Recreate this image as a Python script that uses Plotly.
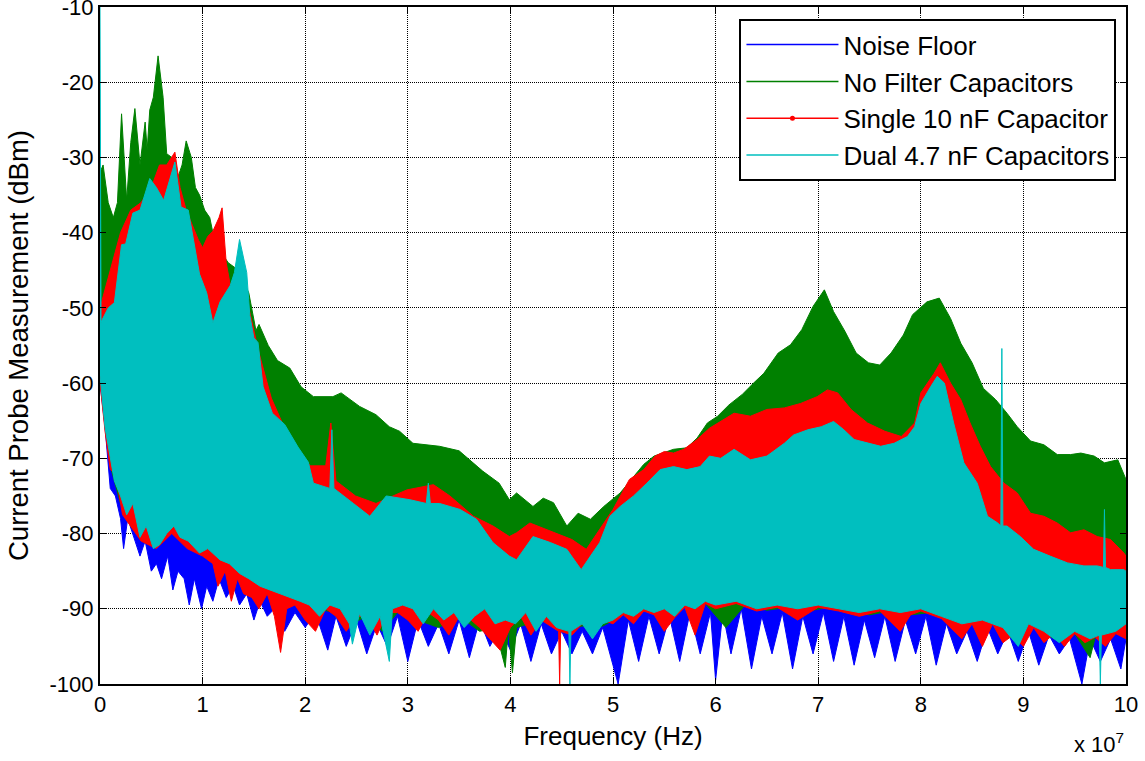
import plotly.graph_objects as go

# ---------------- data (frequency in MHz, level in dBm) ----------------
SERIES_NAMES = ["Noise Floor", "No Filter Capacitors",
                "Single 10 nF Capacitor", "Dual 4.7 nF Capacitors"]
SERIES_COLORS = ["#0000FF", "#008000", "#FF0000", "#00BFBF"]

X_TICK_VALUES_MHZ = [0, 10, 20, 30, 40, 50, 60, 70, 80, 90, 100]
X_TICK_LABELS = ["0", "1", "2", "3", "4", "5", "6", "7", "8", "9", "10"]
Y_TICKS = [-100, -90, -80, -70, -60, -50, -40, -30, -20, -10]

# Noise floor: upper envelope (hidden) and lower envelope
NOISE_TOP = [(0, -55), (3, -70), (10, -78), (20, -84), (40, -86), (60, -85), (80, -85), (100, -87)]
NOISE_BOTTOM = [(0, -60), (0.5, -66), (1, -74), (1.5, -75), (2, -78), (2.3, -82), (2.7, -78), (3.2, -80),
                (3.9, -83), (4.4, -81), (5, -85), (5.5, -84), (6, -86), (6.6, -83), (7.1, -87.5), (7.6, -85),
                (8.2, -86), (8.7, -89.5), (9.2, -86), (9.9, -90), (10.4, -87), (11, -89), (11.6, -86),
                (12.3, -88.5), (13, -87), (13.6, -89.5), (14.3, -88), (15, -91.5), (15.6, -89), (16.3, -91),
                (17, -90), (18, -93), (19, -90.5), (20, -92.5), (21, -90.5), (22.2, -95.5), (23, -91), (24, -95),
                (25, -91.5), (26, -96), (27, -92), (28, -95), (29, -91), (30, -97), (31, -91.5), (32, -95),
                (33, -92), (34, -96), (35, -91.5), (36, -96.5), (37, -91.5), (38, -95), (39, -92.5), (40, -95.5),
                (41, -92), (42, -97), (43, -92), (44, -96), (45, -93), (46, -96), (47, -93), (48, -96),
                (49, -92.5), (50.5, -100), (51.5, -91.5), (52.5, -97), (53.5, -91), (54.5, -96), (55.5, -91),
                (56.5, -97), (57.5, -90.5), (58.5, -96), (59.5, -90.5), (60, -99.5), (60.7, -90.5), (61.5, -96),
                (62.5, -90), (63.5, -98), (64.5, -91), (65.5, -96), (66.5, -90.5), (67.5, -98), (68.5, -91),
                (69.5, -96), (70.5, -90.5), (71.5, -97), (72.5, -91), (73.5, -97.5), (74.5, -91.5), (75.5, -96.5),
                (76.5, -91), (77.5, -97), (78.5, -91.5), (79.5, -96), (80.5, -91), (81.5, -97.5), (82.5, -92),
                (83.5, -96), (84.5, -93), (85.5, -97), (86.5, -92.5), (87.5, -96), (88.5, -93), (89.5, -97),
                (90.5, -93), (91.5, -97.5), (92.5, -93.5), (93.5, -96), (94.5, -94), (95.7, -100), (96.5, -94),
                (97.5, -97), (98.5, -94), (99.5, -98), (100, -94)]

# No filter capacitors
NOFILTER_TOP = [(0, -32), (0.3, -31), (0.8, -36), (1.3, -38), (1.7, -36), (2.1, -24.2), (2.6, -35.7),
                (3.0, -28), (3.4, -23.5), (3.9, -31), (4.4, -25.3), (4.6, -29), (4.85, -23.7), (5.2, -22),
                (5.66, -16.5), (6.15, -22), (6.5, -29.5), (7.0, -30), (7.5, -33), (8.0, -31), (8.4, -27.8),
                (8.9, -30), (9.3, -34), (9.7, -35), (10.2, -37), (10.7, -38), (11.0, -40), (11.5, -42),
                (12.5, -44), (13.5, -45), (14.5, -48), (15.2, -53), (15.5, -52.2), (16.4, -55), (17.3, -57),
                (18.5, -58), (19.6, -60.5), (20.8, -61.8), (22.7, -61.8), (23.5, -61.3), (25.3, -63.1),
                (26.9, -64.2), (28.2, -65.8), (29.2, -66.4), (30.5, -68), (33.1, -68.4), (35.0, -69),
                (37.3, -71.7), (38.9, -73.3), (39.9, -75.5), (40.6, -74.6), (42.2, -76.4), (43.2, -75.3),
                (44.2, -75.9), (45.5, -79), (46.6, -77.3), (47.8, -78.1), (49.1, -76.4), (50.7, -74.6),
                (52.0, -72.4), (53.0, -70.8), (54.0, -69.7), (55.9, -68.8), (57.2, -68.6), (58.2, -67.3),
                (59.2, -65.3), (60.2, -64.4), (61.3, -62.9), (62.6, -61.5), (63.7, -60), (64.7, -58.7),
                (66.1, -56), (67.3, -54.9), (68.4, -52.9), (69.5, -49.8), (70.6, -47.6), (71.5, -50.5),
                (72.6, -53.1), (73.7, -56), (74.9, -57.3), (76.0, -57.6), (77.1, -56), (78.3, -53.6),
                (79.2, -50.9), (80.6, -49.2), (81.8, -48.7), (82.9, -51.4), (83.9, -54.7), (85.0, -57.3),
                (86.1, -60.7), (87.3, -62.2), (88.4, -64), (89.4, -65.8), (90.7, -67.7), (92.0, -68.2),
                (93.3, -69.5), (94.6, -69.5), (95.6, -69.3), (96.9, -69.7), (97.9, -70.6), (99.2, -70.2),
                (100, -72.8)]
NOFILTER_BOTTOM = [(0, -59.5), (1, -71), (2, -76), (3, -78.5), (5, -81.5), (7, -79.5), (9, -81.5), (11, -83),
                   (13, -85), (15, -86.5), (17, -88), (19, -89), (21, -90), (23, -90.5), (24.5, -92), (26, -91),
                   (27.5, -93), (29, -90.5), (31, -91.5), (33, -92.5), (35, -91), (37, -93), (38.5, -92.5),
                   (39.5, -97.8), (39.8, -92.5), (40.2, -98.5), (40.6, -92.5), (43, -91.5), (45, -92.8),
                   (47, -92.3), (49, -92.3), (51, -90.8), (53, -90.3), (55, -90.3), (57, -89.8), (59, -89.3),
                   (61, -92.5), (63, -89.3), (65, -90.2), (67, -89.8), (69, -90.3), (71, -89.8), (73, -90.3),
                   (75, -90.8), (77, -90.3), (79, -90.8), (81, -90.5), (83, -91.5), (85, -92), (87, -92),
                   (89, -94), (91, -92.3), (93, -94), (95, -93.3), (96.5, -96.5), (97, -93.8), (99, -93.3),
                   (100, -92.5)]

# Single 10 nF capacitor
SINGLE_TOP = [(0, -50), (1, -45), (2, -40), (3, -37), (4, -36), (5, -34), (5.8, -31), (6.5, -31), (7.3, -29.3),
              (7.8, -34), (8.4, -37), (9.0, -39), (9.6, -41), (10.0, -42), (10.5, -40.5), (11.0, -39.8),
              (11.6, -38), (11.9, -36.7), (12.3, -44), (12.7, -47), (13.5, -48), (14.5, -50), (15.5, -56),
              (16.7, -62), (18.0, -66), (19.6, -69.5), (20.5, -71), (22.0, -71), (22.5, -65.3), (23.0, -73),
              (24.9, -75), (26.9, -76), (28.6, -75), (29.9, -74.2), (32.5, -73.5), (34.1, -75), (36.4, -77.7),
              (38.3, -79), (39.9, -80.4), (40.6, -79.9), (41.9, -78.6), (43.9, -79.7), (46.0, -80.8),
              (47.4, -82.1), (48.7, -79.5), (50.0, -76.8), (51.6, -72.8), (53.0, -71.5), (54.1, -69.7),
              (55.0, -69.1), (55.9, -69.3), (56.9, -68.8), (58.2, -67.5), (59.4, -66), (61.8, -64),
              (63.4, -64.4), (65.0, -63.5), (66.7, -63.3), (68.3, -62.7), (69.9, -61.8), (70.9, -60.9),
              (71.9, -61.3), (73.2, -63.5), (74.8, -65.3), (76.5, -66.4), (78.1, -67.1), (79.4, -65.3),
              (80.0, -61.3), (81.3, -58.7), (81.9, -57.3), (82.9, -60), (83.9, -62.2), (84.8, -65.3),
              (85.8, -68.4), (86.8, -71.1), (88.1, -73.3), (89.4, -74.6), (90.7, -77.3), (92.0, -77.7),
              (93.3, -78.6), (94.6, -79.9), (95.9, -79.5), (97.2, -80.4), (98.5, -80.8), (99.8, -82.6),
              (100, -83)]
SINGLE_BOTTOM = [(0, -60), (0.5, -66.5), (1, -71.5), (1.5, -72), (2.2, -77.5), (3, -79), (4, -81), (5.5, -82),
                 (7, -80), (8.5, -82), (10, -83), (11, -84), (11.5, -87), (12.2, -85), (12.8, -89), (13.4, -86),
                 (14, -88), (14.8, -88.5), (15.5, -90), (16.3, -88), (17, -91), (17.6, -95.8), (18.2, -90),
                 (19, -89.5), (20, -91.5), (21, -93), (22, -90), (23, -91), (24, -93), (25, -91), (26, -91),
                 (27, -93.5), (28, -90.5), (29, -90.5), (30, -91.5), (31, -93), (32, -90.5), (33, -91.5),
                 (34, -93.5), (35, -91), (36, -91.3), (37, -92.5), (38, -94), (39, -95.5), (40, -92.5),
                 (41, -91), (42, -93.5), (43, -91.5), (44.7, -93), (44.8, -100), (44.9, -93), (46, -93.5),
                 (47, -92), (48, -93.5), (49, -91.5), (50, -92), (51, -90.8), (52, -92), (53, -90.3),
                 (54, -90.8), (55, -93), (56, -91.2), (57, -89.8), (58, -93.5), (59, -89.3), (60, -90),
                 (62, -89.3), (64, -90.3), (66, -89.8), (68, -91.5), (70, -89.8), (72, -90.3), (74, -91),
                 (76, -90.3), (78, -93), (79, -90.8), (80, -90.3), (82, -91.3), (84, -94), (85, -92), (86, -95),
                 (87, -92), (88, -94.5), (89, -93.5), (90, -95), (91, -92.5), (92, -94.5), (93, -93.3), (94, -95),
                 (95, -93.3), (96, -94.5), (97, -93.8), (98, -95), (99, -93.3), (100, -94)]

# Dual 4.7 nF capacitors
DUAL_TOP = [(0, -10), (0.1, -52), (0.2, -51.6), (0.8, -50), (1.4, -49.3), (2.1, -41.6), (2.5, -41.5),
            (3.2, -37.4), (3.9, -37), (4.85, -32.8), (5.5, -34), (6.2, -35.7), (7.3, -30.6), (7.9, -36.6),
            (8.6, -37), (9.1, -41), (9.7, -45.5), (10.4, -48), (11.0, -52), (11.7, -49.2), (12.7, -47),
            (13.1, -45.3), (13.6, -40.9), (14.3, -45.3), (14.6, -51), (15.0, -54), (15.4, -54.6),
            (15.9, -60.5), (16.8, -64), (18.0, -65.5), (19.3, -68.5), (20.3, -70.5), (20.8, -73.3),
            (22.4, -74), (22.6, -66.2), (22.8, -74), (23.4, -74.6), (24.7, -76), (26.3, -77.7), (27.9, -75),
            (30.2, -75.5), (31.8, -76), (32.0, -73.3), (32.2, -76), (33.1, -76), (35.1, -76.8), (36.7, -78.1),
            (38.3, -81.2), (39.9, -83), (40.6, -83.5), (42.2, -80.4), (43.9, -81.2), (45.5, -82.1),
            (46.9, -84.8), (48.7, -81.2), (49.7, -77.7), (50.7, -76.4), (52.0, -75), (53.3, -73.3),
            (54.6, -71.5), (55.9, -71.1), (57.2, -71.5), (58.5, -71.1), (59.4, -69.7), (60.5, -70),
            (61.8, -68.8), (63.4, -70.2), (65.0, -69.7), (66.7, -68), (67.6, -66.9), (69.0, -66.2),
            (70.3, -65.8), (71.5, -65.1), (72.5, -66.2), (73.5, -67.5), (74.8, -68), (76.1, -68.4),
            (77.4, -68), (78.7, -67.1), (79.4, -65.8), (80.0, -62.7), (81.0, -60.4), (81.6, -59.1),
            (82.3, -60), (83.2, -65.3), (84.2, -70.6), (85.5, -73.3), (86.5, -77.7), (87.5, -78.6),
            (87.8, -79), (87.9, -55.4), (88.0, -79), (88.4, -79), (89.7, -80.4), (91.0, -82.1), (92.6, -83),
            (94.3, -83.9), (95.9, -84.3), (97.2, -84.3), (97.8, -84.5), (97.9, -76.8), (98.0, -84.5),
            (98.5, -84.8), (99.8, -84.8), (100, -85)]
DUAL_BOTTOM = [(0, -59), (0.5, -66), (1.4, -73), (2.0, -75), (2.6, -77.5), (3.2, -76), (3.9, -80.5), (4.5, -79),
               (5.2, -82), (5.8, -81.5), (6.5, -80), (7.2, -79), (7.8, -80.5), (8.6, -81), (9.7, -82.6),
               (10.5, -82), (11.7, -83.5), (12.6, -84), (13.6, -85.3), (14.5, -86), (15.6, -87), (16.5, -87.5),
               (17.5, -88), (18.5, -88.5), (19.5, -89), (20.4, -89.5), (21.4, -91), (22.4, -89.5), (23.4, -90),
               (24.3, -92), (24.6, -94.7), (25.3, -90.6), (26.3, -93.5), (27.3, -91), (28.2, -97), (28.5, -90),
               (29.5, -89.5), (30.5, -90), (31.5, -92), (32.5, -90), (33.5, -91.5), (34.5, -90.5), (35.5, -92.5),
               (36.5, -91), (37.5, -90), (38.5, -92), (39.5, -91.5), (40.5, -92), (41.5, -90.5), (42.5, -93),
               (43.5, -91), (44.5, -92.5), (45.7, -93), (45.8, -100), (45.9, -93), (47, -92), (48, -94),
               (49, -92), (50, -91.5), (51, -90.5), (52, -91), (53, -90), (54, -90.5), (55, -90), (56, -91),
               (57, -89.5), (58, -90), (59, -89), (60, -89.5), (62, -89), (64, -90), (66, -89.5), (68, -90),
               (70, -89.5), (72, -90), (74, -90.5), (76, -90), (78, -90.5), (80, -90), (82, -91), (84, -92),
               (86, -91.5), (88, -92.5), (89.5, -95), (90.5, -92), (92, -93), (93.5, -94.5), (95, -93),
               (96.5, -94), (97.4, -93.5), (97.5, -100), (97.6, -93.5), (99, -93), (100, -92)]

SERIES_BANDS = [(NOISE_TOP, NOISE_BOTTOM), (NOFILTER_TOP, NOFILTER_BOTTOM),
                (SINGLE_TOP, SINGLE_BOTTOM), (DUAL_TOP, DUAL_BOTTOM)]

FONT = "Liberation Sans, Arial, sans-serif"


def band_polygon(top, bottom):
    xs = [f * 1e6 for f, _ in top] + [f * 1e6 for f, _ in reversed(bottom)]
    ys = [v for _, v in top] + [v for _, v in reversed(bottom)]
    return xs, ys


fig = go.Figure()

# spectra drawn as filled envelopes (noise floor first, dual capacitors on top)
for name, color, (top, bottom) in zip(SERIES_NAMES, SERIES_COLORS, SERIES_BANDS):
    xs, ys = band_polygon(top, bottom)
    fig.add_trace(go.Scatter(x=xs, y=ys, mode="lines", fill="toself", fillcolor=color,
                             line=dict(color=color, width=1), name=name, showlegend=False,
                             hoverinfo="skip"))

# legend entries (line samples)
for i, (name, color) in enumerate(zip(SERIES_NAMES, SERIES_COLORS)):
    fig.add_trace(go.Scatter(x=[None], y=[None], name=name,
                             mode="lines+markers" if i == 2 else "lines",
                             line=dict(color=color, width=1.5),
                             marker=dict(color=color, size=5)))

axis_common = dict(showline=True, linecolor="black", linewidth=2, mirror="ticks",
                   ticks="inside", ticklen=6, tickwidth=1, tickcolor="black",
                   showgrid=True, gridcolor="black", gridwidth=1, griddash="1px,1px",
                   zeroline=False, ticklabeloverflow="allow", automargin=False,
                   tickfont=dict(size=22, color="black", family=FONT))

fig.update_xaxes(range=[0, 1e8], tickvals=[v * 1e6 for v in X_TICK_VALUES_MHZ], ticktext=X_TICK_LABELS,
                 title=dict(text="Frequency (Hz)", font=dict(size=26, family=FONT, color="black"),
                            standoff=10),
                 **axis_common)
fig.update_yaxes(range=[-100, -10], tickvals=Y_TICKS, ticktext=[str(v) for v in Y_TICKS],
                 title=dict(text="Current Probe Measurement (dBm)",
                            font=dict(size=27.5, family=FONT, color="black"), standoff=13),
                 **axis_common)

fig.add_annotation(text="x 10<sup>7</sup>", xref="paper", yref="paper", x=1.0, y=-0.087,
                   xanchor="right", yanchor="middle", showarrow=False,
                   font=dict(size=22, family=FONT, color="black"))

fig.update_layout(
    width=1145, height=761,
    margin=dict(l=100, r=19, t=7, b=77, autoexpand=False),
    paper_bgcolor="white", plot_bgcolor="white",
    font=dict(family=FONT, color="black"),
    legend=dict(x=0.9907, xanchor="right", y=0.982, yanchor="top",
                bgcolor="white", bordercolor="black", borderwidth=2, itemwidth=92,
                font=dict(size=26, family=FONT, color="black"), tracegroupgap=0),
)

fig.write_html("out.html")
